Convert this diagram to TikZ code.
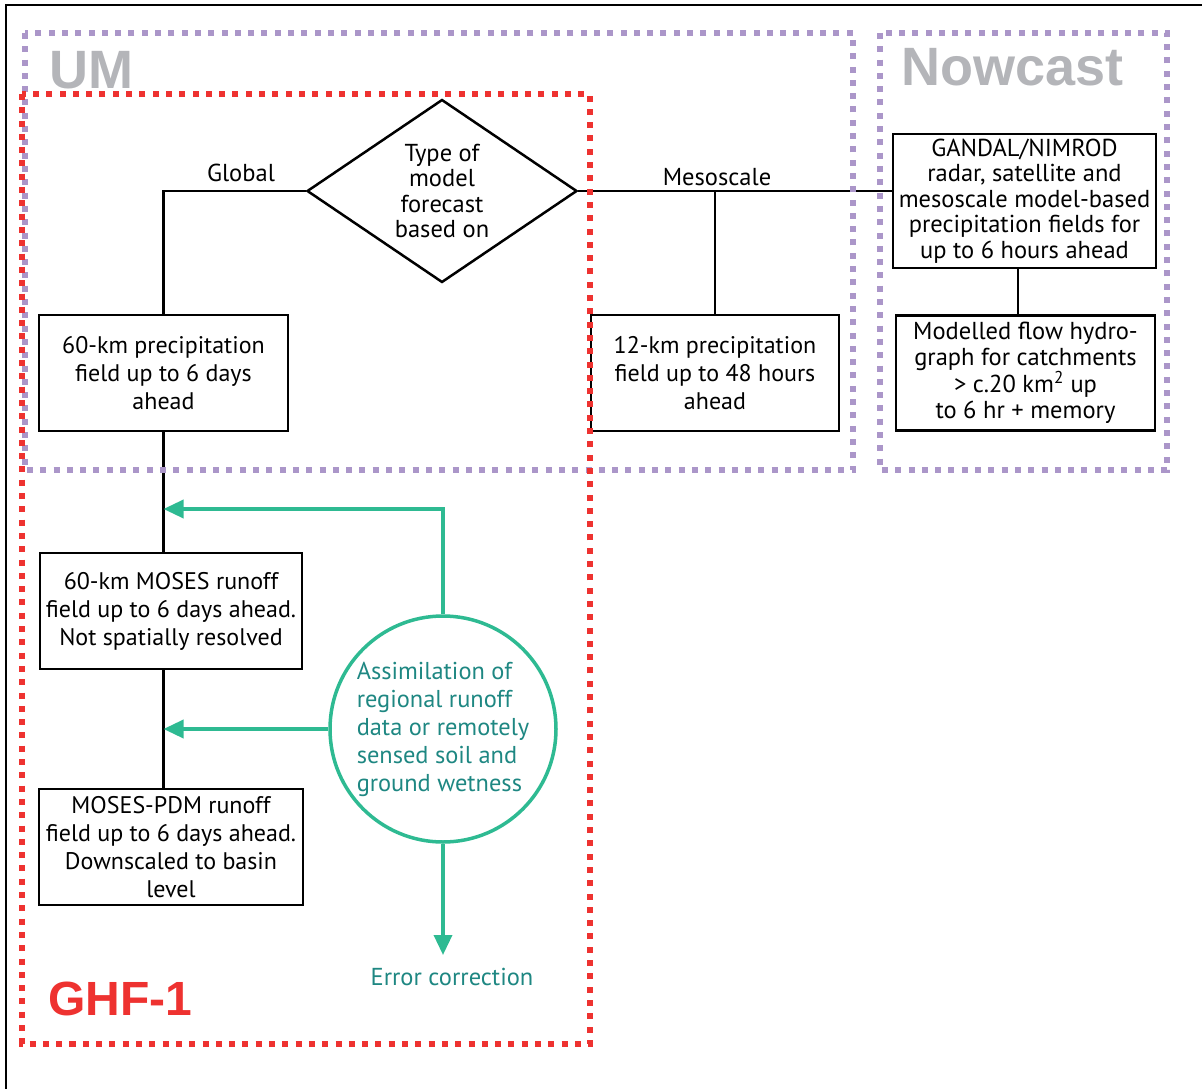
\documentclass[tikz,border=0pt]{standalone}
\usepackage{fontspec}
\setmainfont{PT Sans}
\newfontfamily\titlefont{Liberation Sans}
\usetikzlibrary{shapes,arrows.meta,positioning}
\definecolor{umpurple}{RGB}{171,150,201}
\definecolor{ghfred}{RGB}{238,50,48}
\definecolor{titlegray}{RGB}{180,181,185}
\definecolor{assimgreen}{RGB}{46,186,146}
\definecolor{assimtext}{RGB}{30,135,130}
\tikzset{proc/.style={rectangle,draw,line width=2.5pt,inner sep=0pt,align=center,font=\fontsize{24}{28}\selectfont}}
\tikzset{nowproc/.style={proc,font=\fontsize{24.5}{25.5}\selectfont}}
\tikzset{decide/.style={diamond,draw,line width=2.5pt,aspect=1.5,inner sep=0pt,align=center,minimum width=270pt,minimum height=183pt,font=\fontsize{24.5}{25.5}\selectfont}}
\tikzset{assim/.style={circle,draw=assimgreen,line width=3.5pt,minimum size=226pt,inner sep=0pt,align=left,text=assimtext,font=\fontsize{24.4}{28}\selectfont}}
\tikzset{lbl/.style={anchor=base,font=\fontsize{24.5}{28}\selectfont}}
\tikzset{link/.style={draw,line width=2.5pt}}
\tikzset{feed/.style={draw=assimgreen,line width=3.5pt,-{Triangle[length=20pt,width=18pt]}}}
\tikzset{zone/.style={line width=6pt,dash pattern=on 6pt off 7.3pt}}
\tikzset{zonetitle/.style={anchor=base west,inner sep=0pt,text=titlegray,font=\titlefont\bfseries\fontsize{54}{54}\selectfont}}

\begin{document}
\begin{tikzpicture}[x=1pt,y=-1pt]
    \useasboundingbox (0,0) rectangle (1202,1089);
    \draw[line width=2pt] (6,1089) -- (6,5) -- (1202,5);

    % UM model chain
    \node[decide] (type) at (442,191) {Type of\\model\\forecast\\based on};
    \node[proc,minimum width=249pt,minimum height=116pt] (p60) at (163.5,373) {60-km precipitation\\field up to 6 days\\ahead};
    \node[proc,minimum width=248pt,minimum height=116pt] (p12) at (715,373) {12-km precipitation\\field up to 48 hours\\ahead};
    \node[proc,minimum width=262pt,minimum height=116pt] (moses) at (171,611) {60-km MOSES runoff\\field up to 6 days ahead.\\Not spatially resolved};
    \node[proc,minimum width=264pt,minimum height=116pt] (pdm) at (171,847) {MOSES-PDM runoff\\field up to 6 days ahead.\\Downscaled to basin\\level};

    % nowcast
    \node[nowproc,minimum width=263pt,minimum height=134pt] (gandal) at (1024.5,201) {GANDAL/NIMROD\\radar, satellite and\\mesoscale model-based\\precipitation fields for\\up to 6 hours ahead};
    \node[nowproc,minimum width=259pt,minimum height=115pt] (flow) at (1025.5,373) {Modelled flow hydro-\\graph for catchments\\> c.20 km\textsuperscript{2} up\\to 6 hr + memory};

    % assimilation
    \node[assim] (assimc) at (443,729) {Assimilation of\\regional runoff\\data or remotely\\sensed soil and\\ground wetness};
    \node[lbl,text=assimtext] (errlbl) at (452,985) {Error correction};

    \node[lbl] (globallbl) at (241,182) {Global};
    \node[lbl] (mesolbl) at (717,185) {Mesoscale};

    \coordinate (fb1) at (163.5,509);
    \coordinate (errtip) at (443,955);
    \coordinate (nowlink) at (1018,0);

        \path[link] (type.west) -| (p60.north);
        \path[link] (type.east) -- (type.east -| gandal.west);
        \path[link] (type.east -| p12.north) -- (p12.north);
        \path[link] (p60.south) -- (p60.south |- moses.north);
        \path[link] (p60.south |- moses.south) -- (p60.south |- pdm.north);
        \path[link] (gandal.south -| nowlink) -- (flow.north -| nowlink);
        \path[feed] (assimc.north) |- (fb1);
        \path[feed] (assimc.west) -- (assimc.west -| fb1);
        \path[feed] (assimc.south) -- (errtip);

    % zones
    \draw[zone,draw=umpurple] (25,33) rectangle (853,470);
    \draw[zone,draw=umpurple] (880,33) rectangle (1167,470);
    \draw[zone,draw=ghfred] (22,94) rectangle (590,1044);
    \node[zonetitle] (umlbl) at (49,89) {UM};
    \node[zonetitle] (nowlbl) at (901,86) {Nowcast};
    \node[zonetitle,text=ghfred,font=\titlefont\bfseries\fontsize{48}{48}\selectfont] (ghflbl) at (48,1015) {GHF-1};
  \end{tikzpicture}
\end{document}
